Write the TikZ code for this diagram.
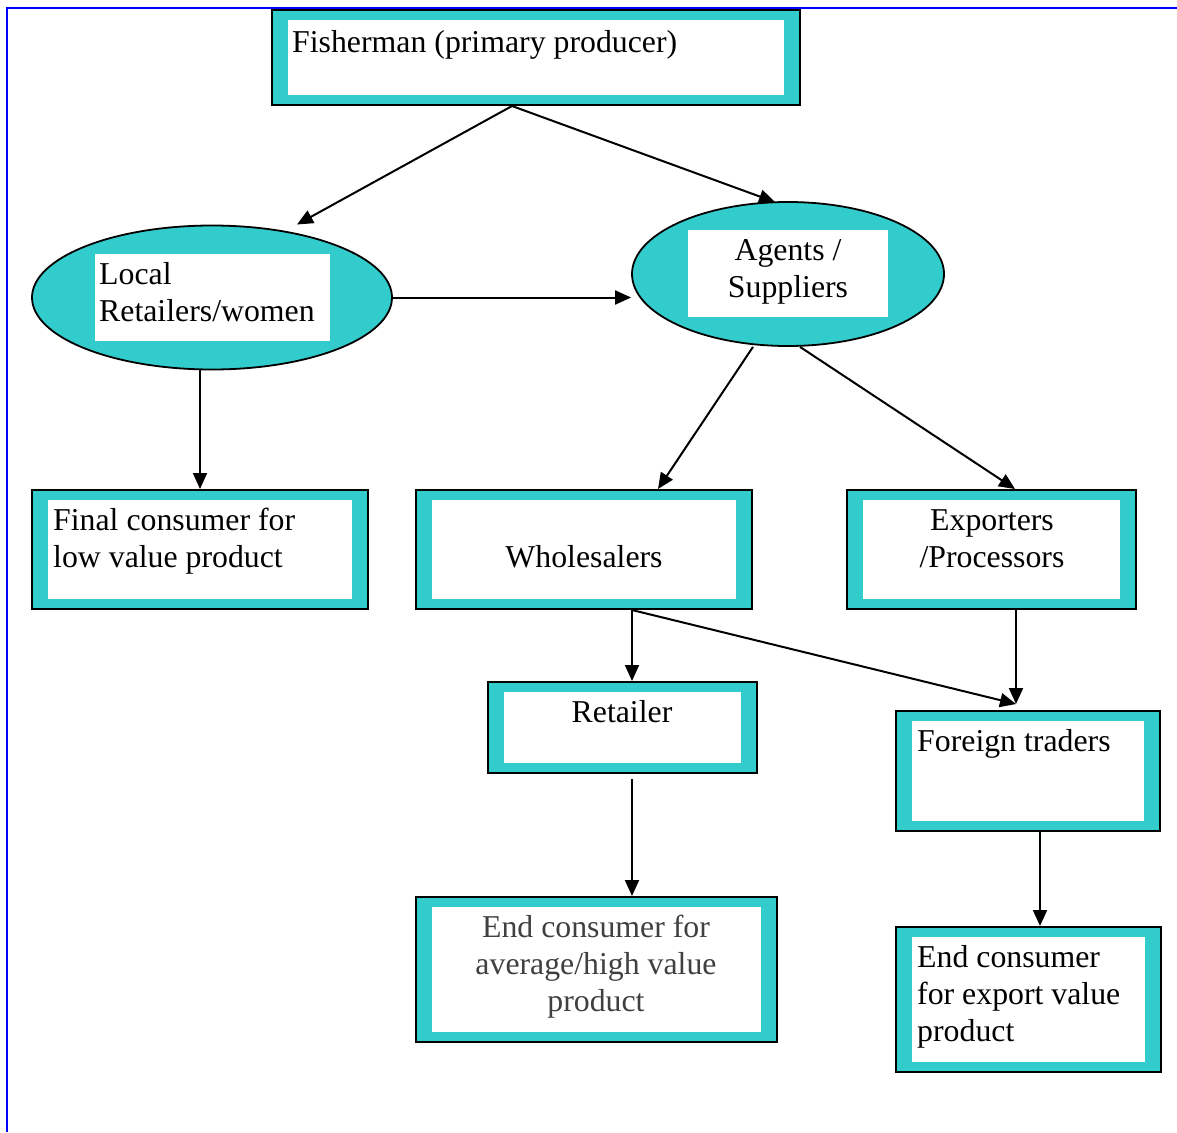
\documentclass[tikz,border=0pt]{standalone}
\usepackage{fontspec}
\setmainfont{Liberation Serif}
\usetikzlibrary{arrows.meta,shapes.geometric,calc}
\definecolor{chainteal}{HTML}{33CCCC}
\definecolor{softgray}{HTML}{404040}

% outer teal frame with a white panel inside it
\newcommand\chainbox[4]{%
  \node[outerbox, minimum width=#3pt, minimum height=#4pt] (#1) at (#2) {};
  \node[innerpanel, minimum width=#3pt-32pt, minimum height=#4pt-20pt] at (#1) {};
}

\begin{document}
\begin{tikzpicture}[x=1pt, y=-1pt,
  outerbox/.style={draw=black, line width=2pt, fill=chainteal, inner sep=0pt},
  innerpanel/.style={fill=white, inner sep=0pt},
  oval/.style={ellipse, draw=black, line width=1.8pt, fill=chainteal, inner sep=0pt},
  lbl/.style={inner sep=0pt, font=\fontsize{31.8}{37}\selectfont},
  flow/.style={draw=black, line width=2pt, -{Triangle[length=16pt,width=14pt]}}]

\useasboundingbox (0,0) rectangle (1177,1132);

% page frame
\draw[blue, line width=2pt] (7,1132) -- (7,8) -- (1177,8);

% rectangular stages
\chainbox{fish}{536,57.5}{528}{95}
\chainbox{final}{200,549.5}{336}{119}
\chainbox{whole}{584,549.5}{336}{119}
\chainbox{exp}{991.5,549.5}{289}{119}
\chainbox{ret}{622.5,727.5}{269}{91}
\chainbox{foreign}{1028,771}{264}{120}
\chainbox{endavg}{596.5,969.5}{361}{145}
\chainbox{endexp}{1028.5,999.5}{265}{145}

% oval stages
\node[oval, minimum width=360pt, minimum height=144pt] (local) at (212,297.5) {};
\node[innerpanel, minimum width=235pt, minimum height=87pt] at (212.5,297.5) {};
\node[oval, minimum width=312pt, minimum height=144pt] (agents) at (788,274) {};
\node[innerpanel, minimum width=200pt, minimum height=87pt] at (788,273.5) {};

% labels
\node[lbl, anchor=base west] (fishtxt) at (292,52.5) {Fisherman (primary producer)};
\node[lbl, anchor=north west, align=left] (localtxt) at (99,258.1) {\strut Local\\Retailers/women};
\node[lbl, anchor=north, align=center] (agentstxt) at (788,234.1) {\strut Agents /\\Suppliers};
\node[lbl, anchor=north west, align=left] (finaltxt) at (53,504.1) {\strut Final consumer for\\low value product};
\node[lbl, anchor=base] (wholetxt) at (584,567.5) {Wholesalers};
\node[lbl, anchor=north, align=center] (exptxt) at (992,504.6) {\strut Exporters\\/Processors};
\node[lbl, anchor=base] (rettxt) at (622,722.5) {Retailer};
\node[lbl, anchor=base west] (foreigntxt) at (917,751.5) {Foreign traders};
\node[lbl, anchor=north, align=center, text=softgray] (endavgtxt) at (596,911.6) {\strut End consumer for\\average/high value\\product};
\node[lbl, anchor=north west, align=left] (endexptxt) at (917,941.6) {\strut End consumer\\for export value\\product};

% flows
\draw[flow] ([xshift=-24pt]fish.south) -- ([shift={(85,-73)}]local.center);
\draw[flow] ([xshift=-24pt]fish.south) -- ([shift={(-13,1)}]agents.north);
\draw[flow] (local.east) -- (local.east -| agents.west);
\draw[flow] (final.north |- local.south) -- (final.north);
\draw[flow] ([xshift=-35pt]agents.south) -- ([xshift=74pt]whole.north);
\draw[flow] ([xshift=12pt]agents.south) -- ([xshift=23.5pt]exp.north);
\draw[flow] ([xshift=48pt]whole.south) -- ([xshift=9.5pt]ret.north);
\draw[flow] ([xshift=48pt]whole.south) -- ([shift={(-12,-6)}]foreign.north);
\draw[flow] ([xshift=24.5pt]exp.south) -- ([shift={(-12,-6)}]foreign.north);
\draw[flow] ([shift={(9.5,5)}]ret.south) -- ([xshift=35.5pt]endavg.north);
\draw[flow] ([xshift=12pt]foreign.south) -- ([xshift=11.5pt]endexp.north);
\end{tikzpicture}
\end{document}
